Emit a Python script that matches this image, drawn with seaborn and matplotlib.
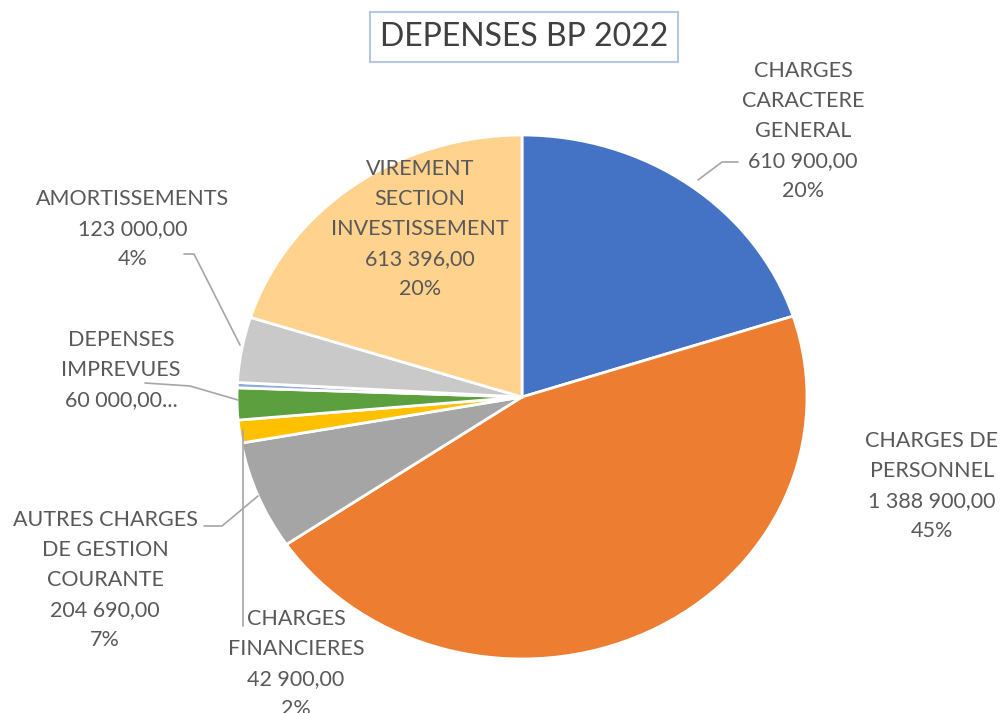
import matplotlib.pyplot as plt
import seaborn as sns

categories = ['CHARGES\nCARACTERE\nGENERAL', 'CHARGES DE\nPERSONNEL',
              'AUTRES CHARGES\nDE GESTION\nCOURANTE', 'CHARGES\nFINANCIERES',
              'DEPENSES\nIMPREVUES', 'ATTENUATIONS\nDE PRODUITS',
              'AMORTISSEMENTS', 'VIREMENT\nSECTION\nINVESTISSEMENT']
values = [610900, 1388900, 204690, 42900, 60000, 10000, 123000, 613396]
value_labels = ['610 900,00', '1 388 900,00', '204 690,00', '42 900,00',
                '60 000,00...', '', '123 000,00', '613 396,00']
pct_labels = ['20%', '45%', '7%', '2%', '', '', '4%', '20%']
colors = ['#4472C4', '#ED7D31', '#A5A5A5', '#FFC000', '#5B9F3E',
          '#8FAADC', '#C9C9C9', '#FFD28E']

sns.set_theme(style='white')
plt.rcParams['font.family'] = ['Lato', 'DejaVu Sans']
txt_color = '#595959'

fig = plt.figure(figsize=(10.08, 7.13), dpi=100)

# pie axes: slightly stretched ellipse like the original
cx, cy, rx, ry = 522, 397, 285, 262
ax = fig.add_axes([(cx - rx) / 1008, 1 - (cy + ry) / 713, 2 * rx / 1008, 2 * ry / 713])
ax.pie(values, colors=colors, startangle=90, counterclock=False, radius=1,
       wedgeprops=dict(edgecolor='white', linewidth=2))
ax.set_xlim(-1, 1)
ax.set_ylim(-1, 1)
ax.set_aspect('auto')
ax.axis('off')

# overlay in pixel coordinates for labels
ov = fig.add_axes([0, 0, 1, 1], facecolor='none')
ov.set_xlim(0, 1008)
ov.set_ylim(713, 0)
ov.axis('off')

# label text centres (px) and leader lines
label_pos = [(803, 131), (932, 486), (105, 580), (296, 664),
             (121, 370), None, (133, 229), (420, 229)]
leaders = [[(738, 162), (722, 162), (698, 180)],
           None,
           [(204, 526), (222, 526), (258, 496)],
           [(243, 626), (243, 430)],
           [(145, 383), (190, 386), (238, 400)],
           None,
           [(184, 254), (194, 254), (240, 345)],
           None]

for i, pos in enumerate(label_pos):
    if pos is None:
        continue
    lines = [categories[i], value_labels[i], pct_labels[i]]
    text = '\n'.join(l for l in lines if l)
    ov.text(pos[0], pos[1], text, ha='center', va='center', fontsize=15.5,
            color=txt_color, linespacing=1.62)
    if leaders[i]:
        xs, ys = zip(*leaders[i])
        ov.plot(xs, ys, color='#A6A6A6', lw=1.2)

# title with a thin frame
ov.text(524, 37, 'DEPENSES BP 2022', ha='center', va='center', fontsize=23,
        color='#404040',
        bbox=dict(boxstyle='square,pad=0.3', facecolor='white',
                  edgecolor='#B4C7E7', linewidth=1.5))

fig.savefig('out.png', dpi=100)
